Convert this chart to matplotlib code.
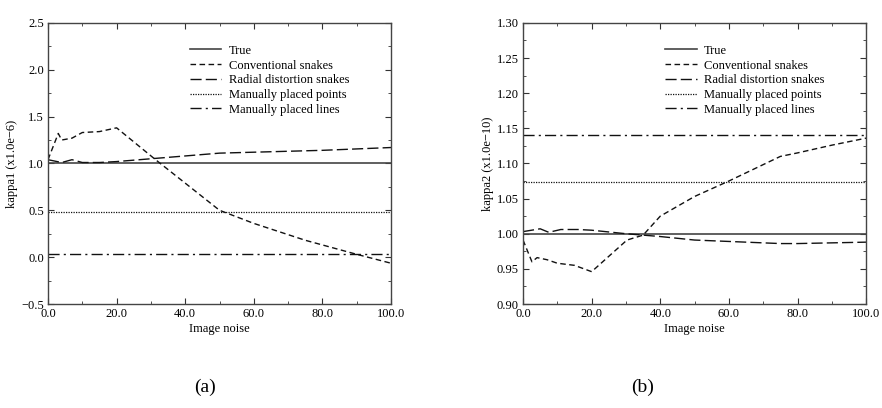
import matplotlib
matplotlib.use("Agg")
import matplotlib.pyplot as plt
from matplotlib.ticker import MultipleLocator, FuncFormatter

plt.rcParams['font.family'] = ['Liberation Serif', 'DejaVu Serif']
plt.rcParams['mathtext.fontset'] = 'stix'

# ---- data (a): kappa1 ----
conv1_x = [0, 3, 4, 7, 10, 15, 20, 31.7, 50, 60, 70, 75, 80, 90, 100]
conv1_y = [1.04, 1.32, 1.25, 1.27, 1.33, 1.34, 1.38, 1.03, 0.50, 0.36, 0.24, 0.18, 0.13, 0.03, -0.065]
rad1_x = [0, 4, 7, 10, 15, 20, 30, 40, 50, 60, 70, 80, 100]
rad1_y = [1.04, 1.01, 1.04, 1.01, 1.01, 1.02, 1.05, 1.08, 1.11, 1.12, 1.13, 1.14, 1.17]
true1 = 1.0
points1 = 0.48
lines1 = 0.03

# ---- data (b): kappa2 ----
conv2_x = [0, 2.6, 4.1, 7, 10, 15, 20, 30.3, 35, 40, 50, 60, 75, 80, 90, 100]
conv2_y = [0.991, 0.960, 0.966, 0.963, 0.958, 0.955, 0.946, 0.991, 0.998, 1.025, 1.053, 1.075, 1.110, 1.115, 1.126, 1.136]
rad2_x = [0, 5, 7.5, 11, 16, 20, 30, 40, 50, 60, 75, 80, 100]
rad2_y = [1.003, 1.007, 1.002, 1.006, 1.006, 1.005, 1.000, 0.996, 0.991, 0.989, 0.986, 0.986, 0.988]
true2 = 1.0
points2 = 1.073
lines2 = 1.140

labels = ["True", "Conventional snakes", "Radial distortion snakes",
          "Manually placed points", "Manually placed lines"]
x_range = [0, 100]

fig = plt.figure(figsize=(8.82, 4.08), dpi=100)
ax1 = fig.add_axes([0.0544, 0.2549, 0.389, 0.689])
ax2 = fig.add_axes([0.593, 0.2549, 0.389, 0.689])

lw = 1.0
col = '#111111'
fs = 9


def fmt(nd):
    return FuncFormatter(lambda v, p: ("%.*f" % (nd, v)).replace('-', '\u2212'))


def draw(ax, cx, cy, rx, ry, t, p, l):
    ax.plot(x_range, [t, t], color='#444444', lw=1.2, ls='-', label=labels[0])
    ax.plot(cx, cy, color=col, lw=lw, ls=(0, (4, 2.5)), label=labels[1])
    ax.plot(rx, ry, color=col, lw=lw, ls=(0, (8, 3)), label=labels[2])
    ax.plot(x_range, [p, p], color=col, lw=0.9, ls=(0, (1, 1)), label=labels[3])
    ax.plot(x_range, [l, l], color=col, lw=lw, ls=(0, (8, 3, 1.5, 3)), label=labels[4])
    ax.set_xlim(0, 100)
    ax.xaxis.set_major_locator(MultipleLocator(20))
    ax.xaxis.set_minor_locator(MultipleLocator(10))
    ax.xaxis.set_major_formatter(fmt(1))
    ax.tick_params(which='both', direction='in', top=True, right=True,
                   labelsize=fs, color='#333333', pad=3)
    ax.tick_params(which='major', length=4)
    ax.tick_params(which='minor', length=2.5)
    for s in ax.spines.values():
        s.set_color('#444444')
        s.set_linewidth(1.0)
    ax.set_xlabel("Image noise", fontsize=fs, labelpad=2)
    ax.legend(loc='upper left', bbox_to_anchor=(0.40, 0.94), frameon=False,
              fontsize=fs, handlelength=2.5, handletextpad=0.6,
              labelspacing=0.22, borderaxespad=0)


draw(ax1, conv1_x, conv1_y, rad1_x, rad1_y, true1, points1, lines1)
ax1.set_ylim(-0.5, 2.5)
ax1.yaxis.set_major_locator(MultipleLocator(0.5))
ax1.yaxis.set_minor_locator(MultipleLocator(0.25))
ax1.yaxis.set_major_formatter(fmt(1))
ax1.set_ylabel("kappa1 (x1.0e\u22126)", fontsize=fs, labelpad=2)

draw(ax2, conv2_x, conv2_y, rad2_x, rad2_y, true2, points2, lines2)
ax2.set_ylim(0.9, 1.3)
ax2.yaxis.set_major_locator(MultipleLocator(0.05))
ax2.yaxis.set_minor_locator(MultipleLocator(0.025))
ax2.yaxis.set_major_formatter(fmt(2))
ax2.set_ylabel("kappa2 (x1.0e\u221210)", fontsize=fs, labelpad=2)

fig.text(205 / 882, 1 - 387 / 408, "(a)", fontsize=14, ha='center', va='center')
fig.text(643 / 882, 1 - 387 / 408, "(b)", fontsize=14, ha='center', va='center')

fig.savefig("out.png", dpi=100)
